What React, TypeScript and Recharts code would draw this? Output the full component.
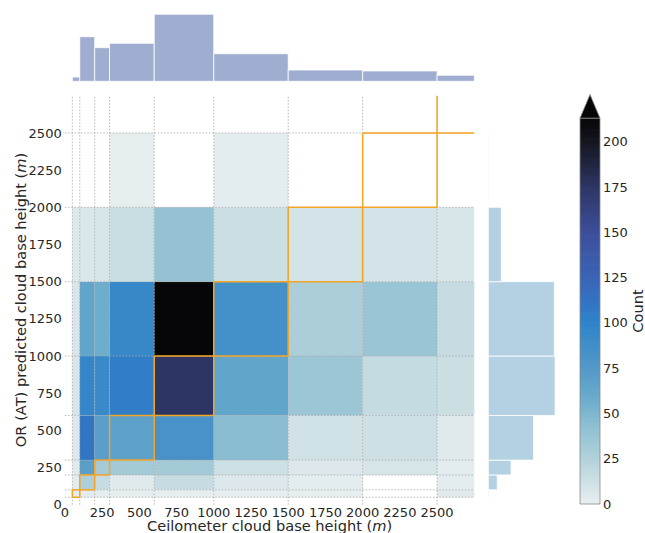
import React from 'react';
import { ComposedChart, XAxis, YAxis, ReferenceArea, ReferenceLine } from 'recharts';

// Bin edges (m)
const xEdges = [50, 100, 200, 300, 600, 1000, 1500, 2000, 2500, 2750];
const yEdges = [50, 100, 200, 300, 600, 1000, 1500, 2000, 2500, 2750];

// Counts per predicted-height bin (rows, bottom to top); columns follow ceilometer bins
const row50 = [1, 3, 2, 1, 1, 1, 1, 0, 4];
const row100 = [3, 27, 16, 4, 16, 6, 3, 0, 3];
const row200 = [4, 70, 31, 32, 32, 13, 6, 9, 3];
const row300 = [6, 110, 70, 68, 82, 45, 11, 13, 4];
const row600 = [8, 98, 92, 105, 175, 64, 36, 17, 14];
const row1000 = [8, 64, 57, 95, 216, 85, 28, 37, 16];
const row1500 = [6, 7, 9, 15, 40, 14, 10, 10, 8];
const row2000 = [0, 0, 0, 2, 0, 3, 0, 0, 0];
const row2500 = [0, 0, 0, 0, 0, 0, 0, 0, 0];
const rows = [row50, row100, row200, row300, row600, row1000, row1500, row2000, row2500];

// Marginal histograms
const topCounts = [36, 375, 283, 320, 564, 232, 95, 87, 51];
const rightCounts = [6, 82, 208, 415, 612, 605, 119, 5, 0];

const xTicks = [0, 250, 500, 750, 1000, 1250, 1500, 1750, 2000, 2250, 2500];
const yTicks = [0, 250, 500, 750, 1000, 1250, 1500, 1750, 2000, 2250, 2500];
const cbTicks = [0, 25, 50, 75, 100, 125, 150, 175, 200];

const AX_MAX = 2750;
const VMAX = 213;
const CB_TOP = 226;

const cmapStops: [number, string][] = [
  [0, '#e9eff1'],
  [12, '#cfe1e5'],
  [25, '#b2d1da'],
  [45, '#8abdd1'],
  [60, '#68a9cc'],
  [70, '#5a9ec9'],
  [80, '#4b94c9'],
  [100, '#2f84c9'],
  [112, '#3373c2'],
  [125, '#3b64b6'],
  [150, '#3c4f9a'],
  [175, '#2d3564'],
  [200, '#15161f'],
  [213, '#060608'],
];

function hex(c: string) {
  return [parseInt(c.slice(1, 3), 16), parseInt(c.slice(3, 5), 16), parseInt(c.slice(5, 7), 16)];
}
function cmap(v: number) {
  const t = Math.max(0, Math.min(VMAX, v));
  for (let i = 0; i < cmapStops.length - 1; i++) {
    const [v0, c0] = cmapStops[i];
    const [v1, c1] = cmapStops[i + 1];
    if (t >= v0 && t <= v1) {
      const f = (t - v0) / (v1 - v0);
      const a = hex(c0), b = hex(c1);
      const r = a.map((x, k) => Math.round(x + (b[k] - x) * f));
      return `rgb(${r[0]},${r[1]},${r[2]})`;
    }
  }
  return cmapStops[cmapStops.length - 1][1];
}

const tickStyle = { fontSize: 13, fill: '#262626', fontFamily: 'DejaVu Sans' };
const gridColor = '#a8a8a8';
const orange = '#f5a524';

export default function App() {
  const cells: React.ReactNode[] = [];
  rows.forEach((row, ri) => {
    row.forEach((c, ci) => {
      if (c <= 0) return;
      cells.push(
        <ReferenceArea
          key={`c-${ri}-${ci}`}
          x1={xEdges[ci]}
          x2={xEdges[ci + 1]}
          y1={yEdges[ri]}
          y2={yEdges[ri + 1]}
          fill={cmap(c)}
          fillOpacity={1}
          stroke="none"
        />
      );
    });
  });

  const grid: React.ReactNode[] = [];
  xEdges.filter((e) => e < AX_MAX).forEach((e) => {
    grid.push(<ReferenceLine key={`gx-${e}`} x={e} stroke={gridColor} strokeWidth={0.8} strokeDasharray="1.6 1.6" />);
  });
  yEdges.filter((e) => e < AX_MAX).forEach((e) => {
    grid.push(<ReferenceLine key={`gy-${e}`} y={e} stroke={gridColor} strokeWidth={0.8} strokeDasharray="1.6 1.6" />);
  });

  const boxes: React.ReactNode[] = [];
  for (let i = 0; i < xEdges.length - 1; i++) {
    const a = xEdges[i];
    const b = xEdges[i + 1];
    const segs = [
      { k: 'b', s: [{ x: a, y: a }, { x: b, y: a }], edge: a },
      { k: 'l', s: [{ x: a, y: a }, { x: a, y: b }], edge: a },
      { k: 't', s: [{ x: a, y: b }, { x: b, y: b }], edge: b },
      { k: 'r', s: [{ x: b, y: a }, { x: b, y: b }], edge: b },
    ];
    segs.forEach((sg) => {
      if (sg.edge >= AX_MAX) return;
      boxes.push(
        <ReferenceLine key={`o-${i}-${sg.k}`} segment={sg.s as any} stroke={orange} strokeWidth={1.5} />
      );
    });
  }

  const topBars = topCounts.map((c, i) => (
    <ReferenceArea
      key={`t-${i}`}
      x1={xEdges[i]}
      x2={xEdges[i + 1]}
      y1={0}
      y2={c}
      fill="#9eadd0"
      fillOpacity={1}
      stroke="#ffffff"
      strokeWidth={0.8}
    />
  ));

  const rightBars = rightCounts
    .map((c, i) =>
      c > 0 ? (
        <ReferenceArea
          key={`r-${i}`}
          x1={0}
          x2={c}
          y1={yEdges[i]}
          y2={yEdges[i + 1]}
          fill="#b3d1e3"
          fillOpacity={1}
          stroke="#ffffff"
          strokeWidth={0.8}
        />
      ) : null
    );

  const cbSlices: React.ReactNode[] = [];
  for (let v = 0; v < VMAX; v++) {
    cbSlices.push(
      <ReferenceArea
        key={`cb-${v}`}
        x1={0}
        x2={1}
        y1={v}
        y2={Math.min(VMAX, v + 1.4)}
        fill={cmap(v + 0.5)}
        fillOpacity={1}
        stroke="none"
      />
    );
  }

  const triangle = (p: any) => (
    <polygon
      points={`${p.x},${p.y + p.height} ${p.x + p.width},${p.y + p.height} ${p.x + p.width / 2},${p.y}`}
      fill="#060608"
      stroke="#888888"
      strokeWidth={0.8}
    />
  );

  return (
    <div style={{ position: 'absolute', left: 0, top: 0, width: 645, height: 533, fontFamily: 'DejaVu Sans', background: '#ffffff' }}>
      {/* top marginal */}
      <div style={{ position: 'absolute', left: 0, top: 0 }}>
        <ComposedChart width={490} height={100} margin={{ top: 10, right: 15.7, bottom: 18.7, left: 64.9 }}>
          <XAxis type="number" dataKey="x" domain={[0, AX_MAX]} hide allowDataOverflow />
          <YAxis type="number" domain={[0, 600]} hide allowDataOverflow />
          {topBars}
        </ComposedChart>
      </div>

      {/* main joint plot */}
      <div style={{ position: 'absolute', left: 0, top: 0 }}>
        <ComposedChart width={490} height={533} margin={{ top: 95.8, right: 15.7, bottom: 0, left: 4.9 }}>
          <XAxis
            type="number"
            dataKey="x"
            domain={[0, AX_MAX]}
            ticks={xTicks}
            interval={0}
            allowDataOverflow
            axisLine={false}
            tickLine={false}
            tickSize={0}
            tickMargin={3.4}
            height={28.3}
            tick={tickStyle}
          />
          <YAxis
            type="number"
            domain={[0, AX_MAX]}
            ticks={yTicks}
            interval={0}
            allowDataOverflow
            axisLine={false}
            tickLine={false}
            tickSize={0}
            tickMargin={3.2}
            width={60}
            tick={tickStyle}
          />
          {cells}
          {grid}
          {boxes}
        </ComposedChart>
      </div>

      {/* right marginal */}
      <div style={{ position: 'absolute', left: 480, top: 0 }}>
        <ComposedChart width={100} height={533} margin={{ top: 95.8, right: 20.7, bottom: 28.3, left: 8.3 }}>
          <XAxis type="number" dataKey="x" domain={[0, 650]} hide allowDataOverflow />
          <YAxis type="number" domain={[0, AX_MAX]} hide allowDataOverflow />
          {rightBars}
        </ComposedChart>
      </div>

      {/* colorbar */}
      <div style={{ position: 'absolute', left: 560, top: 0 }}>
        <ComposedChart width={85} height={533} margin={{ top: 94.6, right: 0, bottom: 29, left: 20 }}>
          <XAxis type="number" dataKey="x" domain={[0, 1]} hide allowDataOverflow />
          <YAxis
            orientation="right"
            type="number"
            domain={[0, CB_TOP]}
            ticks={cbTicks}
            interval={0}
            allowDataOverflow
            axisLine={false}
            tickLine={false}
            tickSize={0}
            tickMargin={3}
            width={45}
            tick={tickStyle}
          />
          {cbSlices}
          <ReferenceArea x1={0} x2={1} y1={0} y2={VMAX} fill="none" fillOpacity={0} stroke="#888888" strokeWidth={0.8} />
          <ReferenceArea x1={0} x2={1} y1={VMAX} y2={CB_TOP} shape={triangle} />
        </ComposedChart>
      </div>

      {/* axis titles */}
      <svg width={645} height={533} style={{ position: 'absolute', left: 0, top: 0, pointerEvents: 'none' }}>
        <text x={269.6} y={530.5} textAnchor="middle" fontSize={14.6} fill="#262626" fontFamily="DejaVu Sans">
          Ceilometer cloud base height (<tspan fontStyle="italic">m</tspan>)
        </text>
        <text transform="translate(25.5,300) rotate(-90)" textAnchor="middle" fontSize={14.6} fill="#262626" fontFamily="DejaVu Sans">
          OR (AT) predicted cloud base height (<tspan fontStyle="italic">m</tspan>)
        </text>
        <text transform="translate(643,311) rotate(-90)" textAnchor="middle" fontSize={14.6} fill="#262626" fontFamily="DejaVu Sans">
          Count
        </text>
      </svg>
    </div>
  );
}
